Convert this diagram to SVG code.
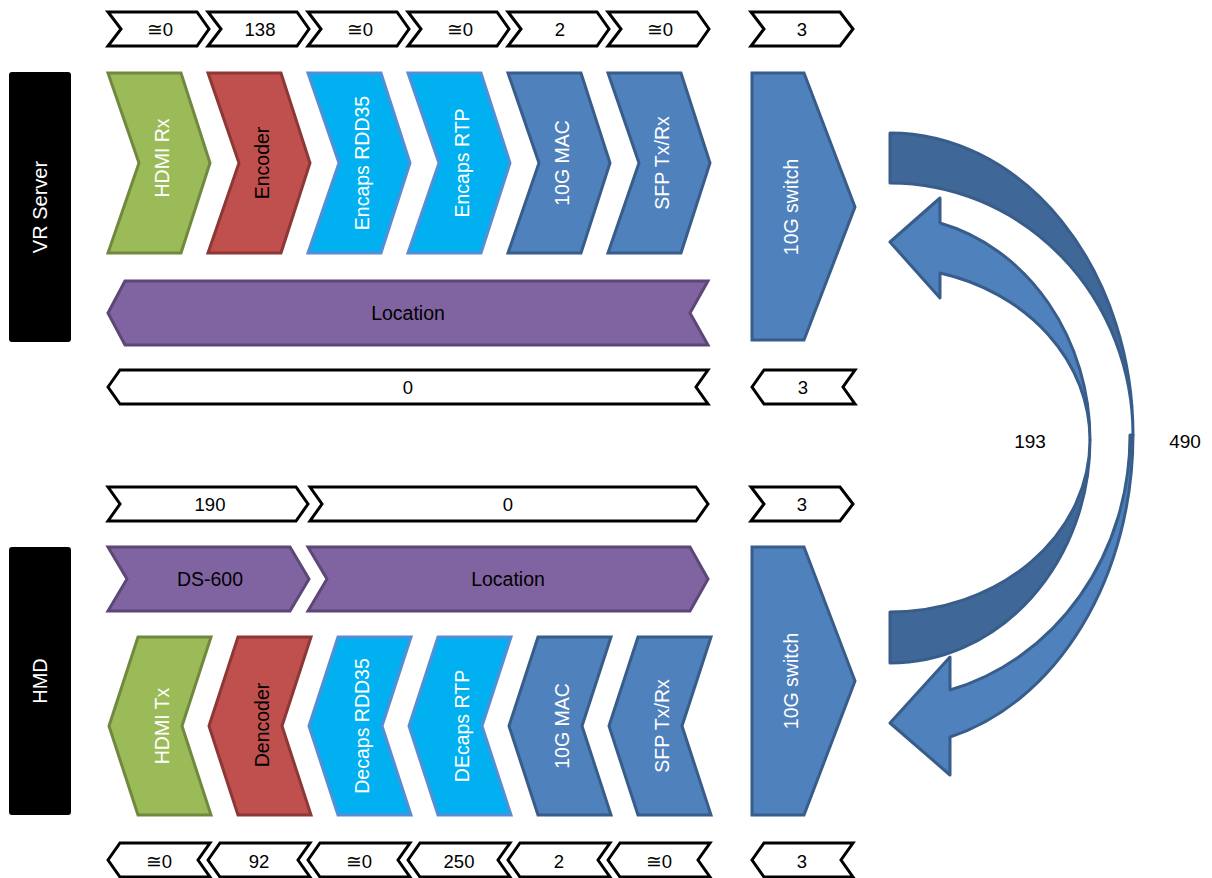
<svg xmlns="http://www.w3.org/2000/svg" width="1212" height="878" viewBox="0 0 1212 878">
<style>
text{font-family:"Liberation Sans",Arial,sans-serif;}
.lbl{fill:#fff;stroke:#000;stroke-width:3;stroke-linejoin:miter;}
.lt{font-size:18.5px;fill:#000;text-anchor:middle;}
.big{font-size:19.5px;text-anchor:middle;dominant-baseline:central;}
.w{fill:#fff;}
.k{fill:#000;}
.grn{fill:#9BBB59;stroke:#71893F;stroke-width:3;}
.red{fill:#C0504D;stroke:#8C3836;stroke-width:3;}
.cyn{fill:#00B0F0;stroke:#558ED5;stroke-width:3;}
.blu{fill:#4F81BD;stroke:#385D8A;stroke-width:3;}
.pur{fill:#8064A2;stroke:#5C4776;stroke-width:3;}
.dk{fill:#3F6797;stroke:#385D8A;stroke-width:3;stroke-linejoin:round;}
.lb{fill:#4F81BD;stroke:#385D8A;stroke-width:3;stroke-linejoin:round;}
</style>

<g id="vr-server">
<rect x="9" y="72" width="62" height="270" rx="3" fill="#000"/>
<text class="big w" style="font-size:20px" transform="translate(40,207) rotate(-90)">VR Server</text>
</g>
<g id="hmd">
<rect x="9" y="547" width="62" height="268" rx="3" fill="#000"/>
<text class="big w" style="font-size:20px" transform="translate(40,681) rotate(-90)">HMD</text>
</g>

<!-- top latency labels -->
<g id="top-labels">
<polygon class="lbl" points="108,12 197,12 209,29 197,46 108,46 121,29"/>
<text class="lt" x="160" y="36">≅0</text>
<polygon class="lbl" points="208,12 297,12 309,29 297,46 208,46 221,29"/>
<text class="lt" x="260" y="36">138</text>
<polygon class="lbl" points="308,12 397,12 409,29 397,46 308,46 321,29"/>
<text class="lt" x="360" y="36">≅0</text>
<polygon class="lbl" points="408,12 497,12 509,29 497,46 408,46 421,29"/>
<text class="lt" x="460" y="36">≅0</text>
<polygon class="lbl" points="508,12 597,12 609,29 597,46 508,46 521,29"/>
<text class="lt" x="560" y="36">2</text>
<polygon class="lbl" points="608,12 697,12 709,29 697,46 608,46 621,29"/>
<text class="lt" x="660" y="36">≅0</text>
<polygon class="lbl" points="751,12 840,12 853,29 840,46 751,46 764,29"/>
<text class="lt" x="802" y="36">3</text>
</g>

<!-- VR server pipeline -->
<g id="hdmi-rx">
<polygon class="grn" points="108,73 181,73 210,163 181,253 108,253 139,163"/>
<text class="big w" transform="translate(162,158) rotate(-90)">HDMI Rx</text>
</g>
<g id="encoder">
<polygon class="red" points="208,73 281,73 310,163 281,253 208,253 239,163"/>
<text class="big k" transform="translate(262,163) rotate(-90)">Encoder</text>
</g>
<g id="encaps-rdd35">
<polygon class="cyn" points="308,73 381,73 410,163 381,253 308,253 339,163"/>
<text class="big w" transform="translate(362,163) rotate(-90)">Encaps RDD35</text>
</g>
<g id="encaps-rtp">
<polygon class="cyn" points="408,73 481,73 510,163 481,253 408,253 439,163"/>
<text class="big w" transform="translate(462,163) rotate(-90)">Encaps RTP</text>
</g>
<g id="mac-top">
<polygon class="blu" points="508,73 581,73 610,163 581,253 508,253 539,163"/>
<text class="big w" transform="translate(562,163) rotate(-90)">10G MAC</text>
</g>
<g id="sfp-top">
<polygon class="blu" points="608,73 681,73 710,163 681,253 608,253 639,163"/>
<text class="big w" transform="translate(662,163) rotate(-90)">SFP Tx/Rx</text>
</g>
<g id="switch-top">
<polygon class="blu" points="752,73 804,73 855,207 804,340 752,340"/>
<text class="big w" transform="translate(791,207) rotate(-90)">10G switch</text>
</g>
<g id="location-top">
<polygon class="pur" points="108,313 125,281 708,281 690,313 708,345 125,345"/>
<text class="big k" x="408" y="313">Location</text>
</g>

<g id="row-0-labels">
<polygon class="lbl" points="108,387 120,370 708,370 696,387 708,404 120,404"/>
<text class="lt" x="408" y="394">0</text>
<polygon class="lbl" points="752,387 764,370 855,370 843,387 855,404 764,404"/>
<text class="lt" x="803" y="394">3</text>
</g>

<g id="row-190-labels">
<polygon class="lbl" points="108,487 296,487 308,504 296,521 108,521 120,504"/>
<text class="lt" x="210" y="511">190</text>
<polygon class="lbl" points="310,487 696,487 708,504 696,521 310,521 322,504"/>
<text class="lt" x="508" y="511">0</text>
<polygon class="lbl" points="751,487 840,487 853,504 840,521 751,521 764,504"/>
<text class="lt" x="802" y="511">3</text>
</g>

<!-- HMD pipeline -->
<g id="ds-600">
<polygon class="pur" points="108,547 290,547 309,579 290,611 108,611 127,579"/>
<text class="big k" x="210" y="579">DS-600</text>
</g>
<g id="location-bottom">
<polygon class="pur" points="308,547 690,547 708,579 690,611 308,611 327,579"/>
<text class="big k" x="508" y="579">Location</text>
</g>
<g id="hdmi-tx">
<polygon class="grn" points="109,726 138,637 211,637 182,726 211,815 138,815"/>
<text class="big w" transform="translate(162,726) rotate(-90)">HDMI Tx</text>
</g>
<g id="dencoder">
<polygon class="red" points="209,726 238,637 311,637 282,726 311,815 238,815"/>
<text class="big k" transform="translate(262,725) rotate(-90)">Dencoder</text>
</g>
<g id="decaps-rdd35">
<polygon class="cyn" points="309,726 338,637 411,637 382,726 411,815 338,815"/>
<text class="big w" transform="translate(362,726) rotate(-90)">Decaps RDD35</text>
</g>
<g id="decaps-rtp">
<polygon class="cyn" points="409,726 438,637 511,637 482,726 511,815 438,815"/>
<text class="big w" transform="translate(462,726) rotate(-90)">DEcaps RTP</text>
</g>
<g id="mac-bottom">
<polygon class="blu" points="509,726 538,637 611,637 582,726 611,815 538,815"/>
<text class="big w" transform="translate(562,726) rotate(-90)">10G MAC</text>
</g>
<g id="sfp-bottom">
<polygon class="blu" points="609,726 638,637 711,637 682,726 711,815 638,815"/>
<text class="big w" transform="translate(662,726) rotate(-90)">SFP Tx/Rx</text>
</g>
<g id="switch-bottom">
<polygon class="blu" points="752,547 804,547 855,681 804,815 752,815"/>
<text class="big w" transform="translate(791,681) rotate(-90)">10G switch</text>
</g>

<g id="bottom-labels">
<polygon class="lbl" points="108,860 120,843 210,843 198,860 210,877 120,877"/>
<text class="lt" x="159" y="868">≅0</text>
<polygon class="lbl" points="208,860 220,843 310,843 298,860 310,877 220,877"/>
<text class="lt" x="259" y="868">92</text>
<polygon class="lbl" points="308,860 320,843 410,843 398,860 410,877 320,877"/>
<text class="lt" x="359" y="868">≅0</text>
<polygon class="lbl" points="408,860 420,843 510,843 498,860 510,877 420,877"/>
<text class="lt" x="459" y="868">250</text>
<polygon class="lbl" points="508,860 520,843 610,843 598,860 610,877 520,877"/>
<text class="lt" x="559" y="868">2</text>
<polygon class="lbl" points="608,860 620,843 710,843 698,860 710,877 620,877"/>
<text class="lt" x="659" y="868">≅0</text>
<polygon class="lbl" points="752,860 764,843 853,843 841,860 853,877 764,877"/>
<text class="lt" x="802" y="868">3</text>
</g>

<!-- curved arrows -->
<g id="connectors">
<g id="arrow-490">
<path class="lb" d="M1133,435 A243,312 0 0 1 950,737 L950,775 L890,723 L950,657 L950,690 A243,263 0 0 0 1130,435 Z"/>
<path class="dk" d="M890,133 A243,302 0 0 1 1133,435 A243,252 0 0 0 890,183 Z"/>
</g>
<g id="arrow-193">
<path class="dk" d="M1090,440 A200,223 0 0 1 890,663 L890,612 A200,172 0 0 0 1090,440 Z"/>
<path class="lb" d="M1090,440 A200,224 0 0 0 940,223 L940,198 L890,242 L940,298 L940,273 A200,172.5 0 0 1 1090,440 Z"/>
</g>
<text class="lt" style="font-size:19px" x="1030" y="448">193</text>
<text class="lt" style="font-size:19px" x="1185" y="448">490</text>
</g>
</svg>
